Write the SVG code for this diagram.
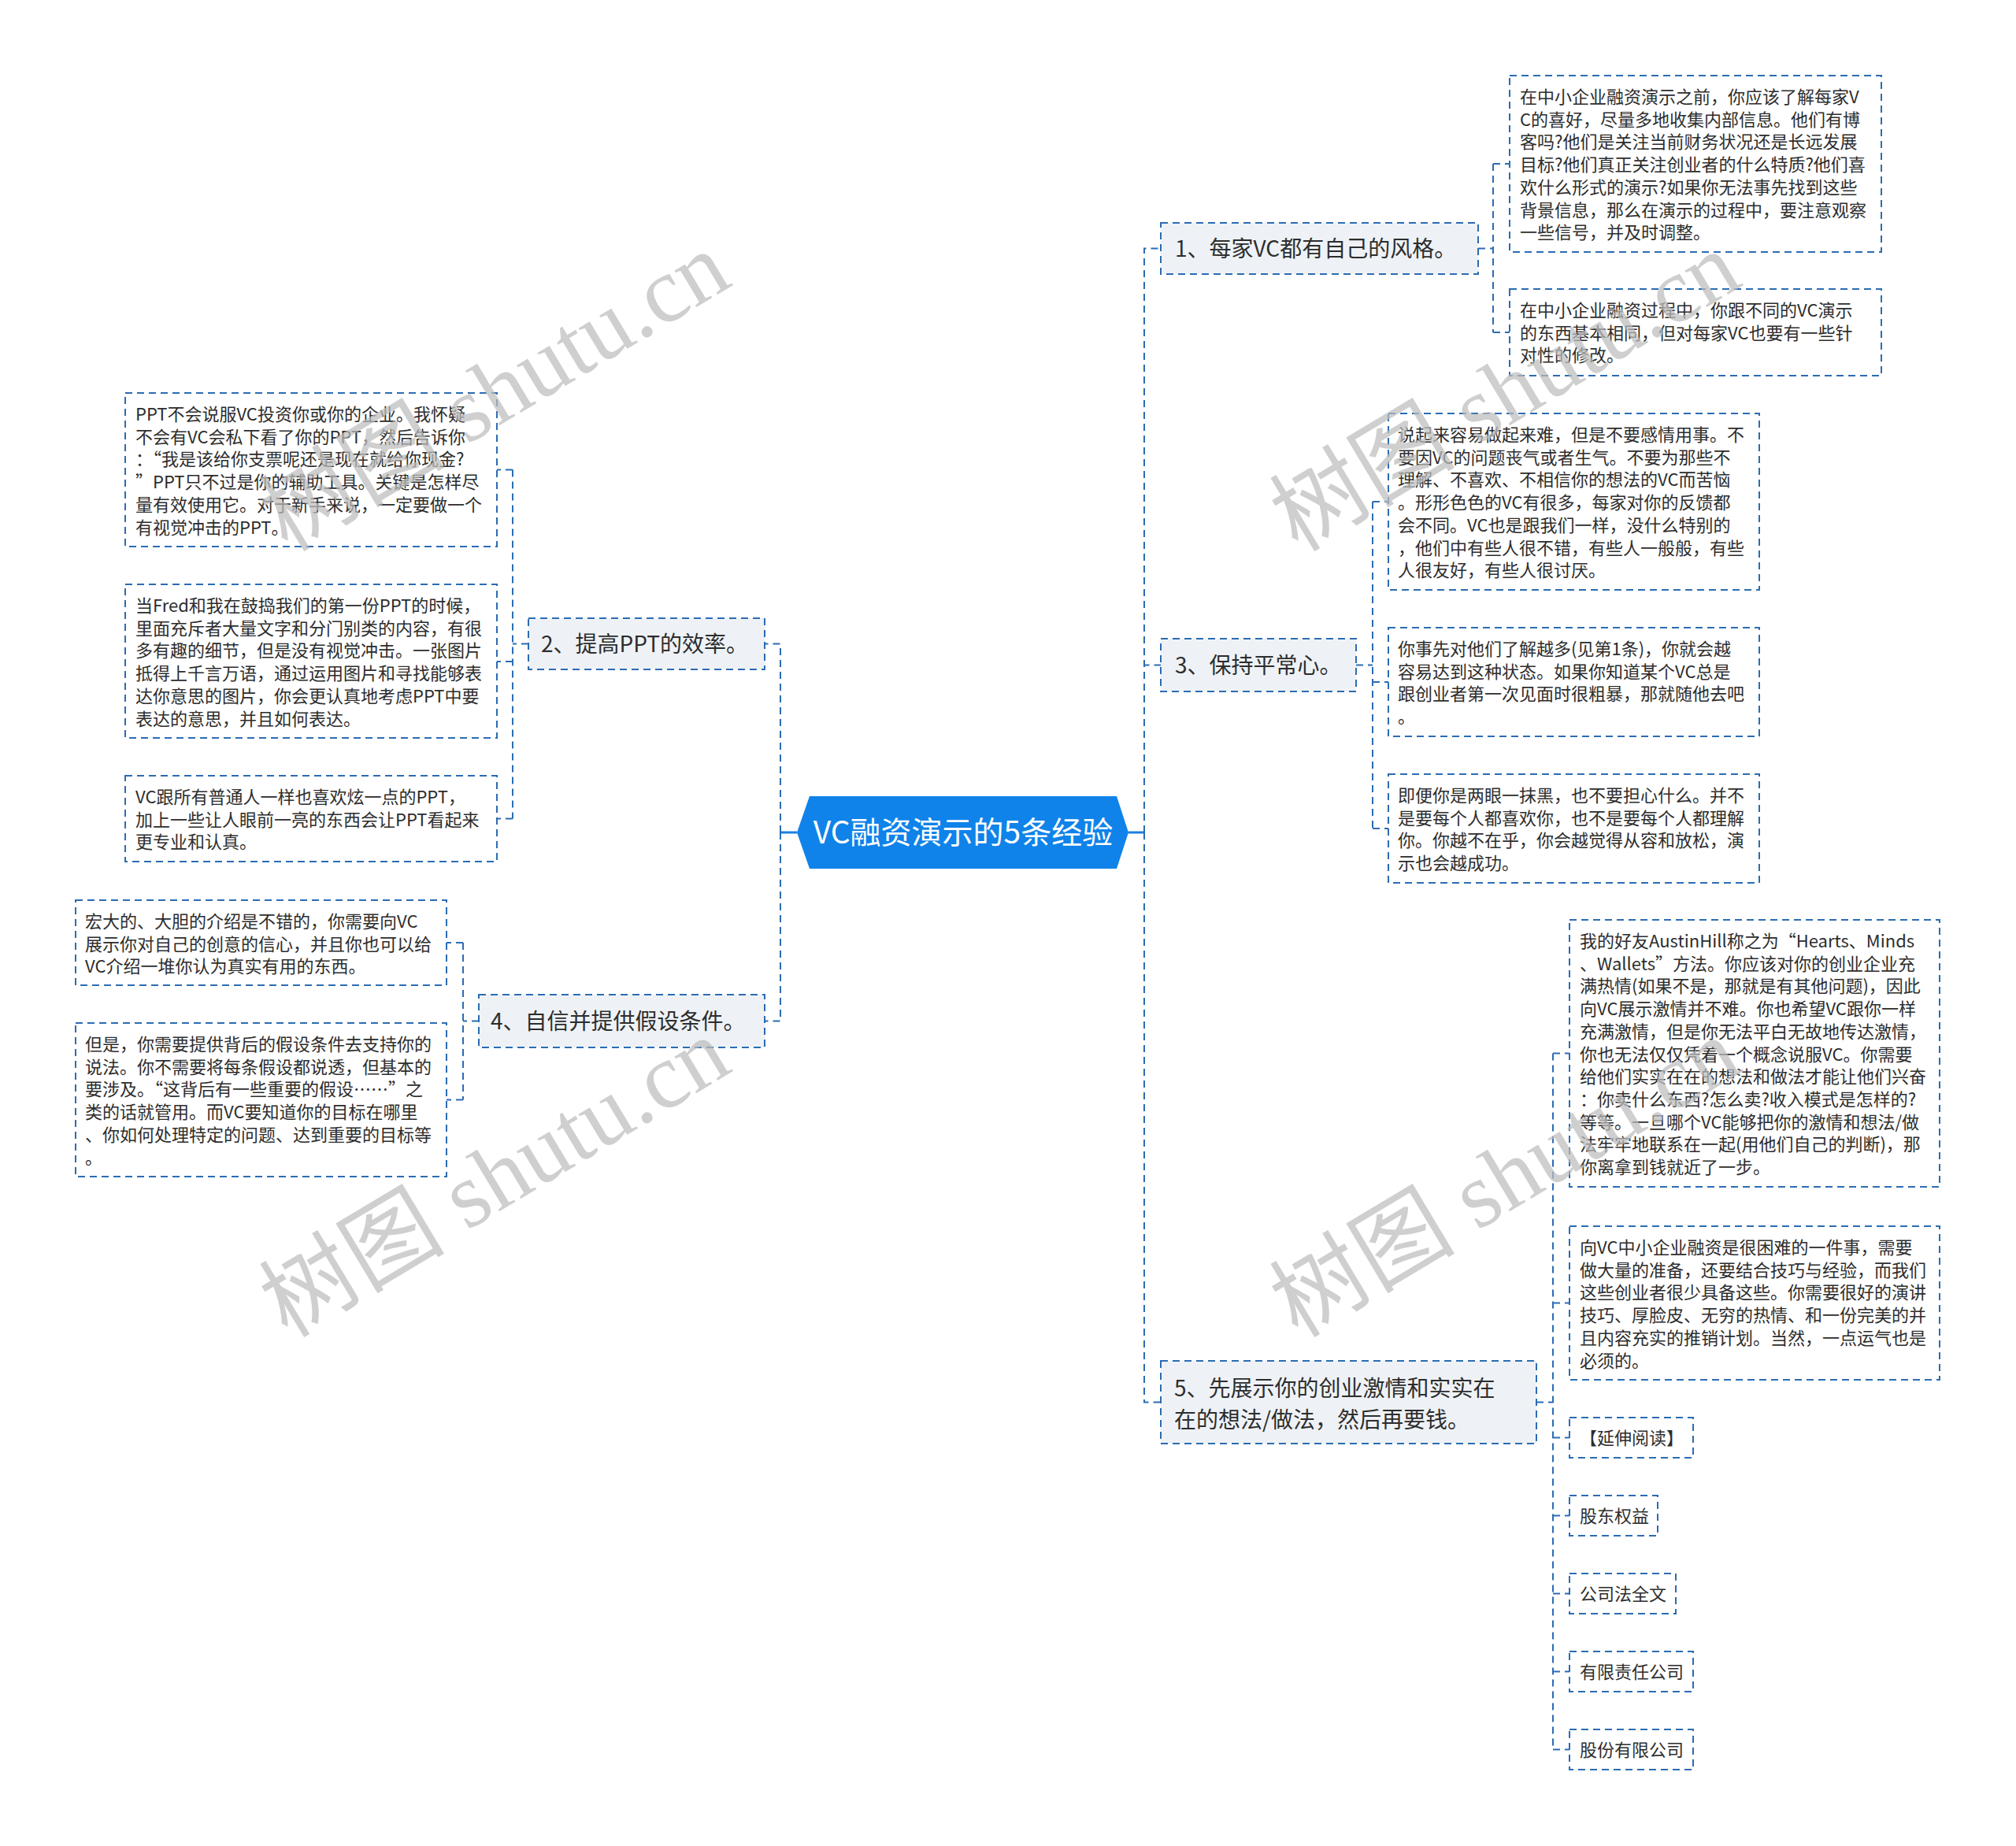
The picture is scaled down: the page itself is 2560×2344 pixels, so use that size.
<svg xmlns="http://www.w3.org/2000/svg" width="2560" height="2344" viewBox="0 0 2560 2344">
<style>
.t{font-family:"Noto Sans CJK SC","Noto Sans",sans-serif;fill:#2d2d2d}
.s{font-size:22px}
.m{font-size:28px}
.box{fill:none;stroke:#2b6cb3;stroke-width:2;stroke-dasharray:9 6}
.main{fill:#eef2f6;stroke:#2b6cb3;stroke-width:2;stroke-dasharray:9 6}
.ln{fill:none;stroke:#2b6cb3;stroke-width:2;stroke-dasharray:9 6}
.solid{fill:none;stroke:#1a7fe0;stroke-width:3}
.wm{font-family:"Liberation Serif","Noto Sans CJK SC",serif;font-size:118px;fill:#bdbdbd;opacity:.72}
</style>
<rect width="2560" height="2344" fill="#ffffff"/>
<g id="connectors">
<path class="solid" d="M1012,1057 H991"/>
<path class="solid" d="M1433,1057 H1453"/>
<path class="ln" d="M991,1057 V817.5 H971 M991,1057 V1296.5 H971"/>
<path class="ln" d="M1453,1057 V315.5 H1474 M1453,1057 V844.5 H1474 M1453,1057 V1780.5 H1474"/>
<path class="ln" d="M1877,315.5 H1896 M1896,208 V422 M1896,208 H1917 M1896,422 H1917"/>
<path class="ln" d="M1722,844.5 H1743 M1743,637 V1052 M1743,637 H1763 M1743,866 H1763 M1743,1052 H1763"/>
<path class="ln" d="M1951,1780.5 H1972 M1972,1337.5 V2221.5 M1972,1337.5 H1993 M1972,1654.5 H1993 M1972,1825.5 H1993 M1972,1924.5 H1993 M1972,2023.5 H1993 M1972,2122.5 H1993 M1972,2221.5 H1993"/>
<path class="ln" d="M671,817.5 H651 M651,596.5 V1039.5 M651,596.5 H631 M651,840 H631 M651,1039.5 H631"/>
<path class="ln" d="M608,1296.5 H588 M588,1197 V1396.5 M588,1197 H567 M588,1396.5 H567"/>
</g>
<g id="root">
<polygon points="1012,1057 1028,1011 1418,1011 1433,1057 1418,1103 1028,1103" fill="#0f83e9"/>
<text x="1223" y="1071" text-anchor="middle" font-family="Noto Sans CJK SC, sans-serif" font-size="39" fill="#ffffff">VC融资演示的5条经验</text>
</g>
<g id="n1">
<rect class="main" x="1474" y="283" width="403" height="65"/>
<text class="t m" x="1492" y="326">1、每家VC都有自己的风格。</text>
</g>
<g id="n1a">
<rect class="box" x="1917" y="96" width="472" height="224"/>
<text class="t s"><tspan x="1930" y="131">在中小企业融资演示之前，你应该了解每家V</tspan><tspan x="1930" y="159.7">C的喜好，尽量多地收集内部信息。他们有博</tspan><tspan x="1930" y="188.4">客吗?他们是关注当前财务状况还是长远发展</tspan><tspan x="1930" y="217.1">目标?他们真正关注创业者的什么特质?他们喜</tspan><tspan x="1930" y="245.8">欢什么形式的演示?如果你无法事先找到这些</tspan><tspan x="1930" y="274.5">背景信息，那么在演示的过程中，要注意观察</tspan><tspan x="1930" y="303.2">一些信号，并及时调整。</tspan></text>
</g>
<g id="n1b">
<rect class="box" x="1917" y="367" width="472" height="110"/>
<text class="t s"><tspan x="1930" y="402">在中小企业融资过程中，你跟不同的VC演示</tspan><tspan x="1930" y="430.7">的东西基本相同，但对每家VC也要有一些针</tspan><tspan x="1930" y="459.4">对性的修改。</tspan></text>
</g>
<g id="n3">
<rect class="main" x="1474" y="811" width="248" height="67"/>
<text class="t m" x="1492" y="855">3、保持平常心。</text>
</g>
<g id="n3a">
<rect class="box" x="1763" y="525" width="471" height="224"/>
<text class="t s"><tspan x="1775" y="560">说起来容易做起来难，但是不要感情用事。不</tspan><tspan x="1775" y="588.7">要因VC的问题丧气或者生气。不要为那些不</tspan><tspan x="1775" y="617.4">理解、不喜欢、不相信你的想法的VC而苦恼</tspan><tspan x="1775" y="646.1">。形形色色的VC有很多，每家对你的反馈都</tspan><tspan x="1775" y="674.8">会不同。VC也是跟我们一样，没什么特别的</tspan><tspan x="1775" y="703.5">，他们中有些人很不错，有些人一般般，有些</tspan><tspan x="1775" y="732.2">人很友好，有些人很讨厌。</tspan></text>
</g>
<g id="n3b">
<rect class="box" x="1763" y="797" width="471" height="138"/>
<text class="t s"><tspan x="1775" y="832">你事先对他们了解越多(见第1条)，你就会越</tspan><tspan x="1775" y="860.7">容易达到这种状态。如果你知道某个VC总是</tspan><tspan x="1775" y="889.4">跟创业者第一次见面时很粗暴，那就随他去吧</tspan><tspan x="1775" y="918.1">。</tspan></text>
</g>
<g id="n3c">
<rect class="box" x="1763" y="983" width="471" height="138"/>
<text class="t s"><tspan x="1775" y="1018">即便你是两眼一抹黑，也不要担心什么。并不</tspan><tspan x="1775" y="1046.7">是要每个人都喜欢你，也不是要每个人都理解</tspan><tspan x="1775" y="1075.4">你。你越不在乎，你会越觉得从容和放松，演</tspan><tspan x="1775" y="1104.1">示也会越成功。</tspan></text>
</g>
<g id="n5">
<rect class="main" x="1474" y="1728" width="477" height="105"/>
<text class="t m"><tspan x="1491" y="1773">5、先展示你的创业激情和实实在</tspan><tspan x="1491" y="1812.5">在的想法/做法，然后再要钱。</tspan></text>
</g>
<g id="n5a">
<rect class="box" x="1993" y="1168" width="470" height="339"/>
<text class="t s"><tspan x="2006" y="1203">我的好友AustinHill称之为“Hearts、Minds</tspan><tspan x="2006" y="1231.7">、Wallets”方法。你应该对你的创业企业充</tspan><tspan x="2006" y="1260.4">满热情(如果不是，那就是有其他问题)，因此</tspan><tspan x="2006" y="1289.1">向VC展示激情并不难。你也希望VC跟你一样</tspan><tspan x="2006" y="1317.8">充满激情，但是你无法平白无故地传达激情，</tspan><tspan x="2006" y="1346.5">你也无法仅仅凭着一个概念说服VC。你需要</tspan><tspan x="2006" y="1375.2">给他们实实在在的想法和做法才能让他们兴奋</tspan><tspan x="2006" y="1403.9">：你卖什么东西?怎么卖?收入模式是怎样的?</tspan><tspan x="2006" y="1432.6">等等。一旦哪个VC能够把你的激情和想法/做</tspan><tspan x="2006" y="1461.3">法牢牢地联系在一起(用他们自己的判断)，那</tspan><tspan x="2006" y="1490">你离拿到钱就近了一步。</tspan></text>
</g>
<g id="n5b">
<rect class="box" x="1993" y="1557" width="470" height="195"/>
<text class="t s"><tspan x="2006" y="1592">向VC中小企业融资是很困难的一件事，需要</tspan><tspan x="2006" y="1620.7">做大量的准备，还要结合技巧与经验，而我们</tspan><tspan x="2006" y="1649.4">这些创业者很少具备这些。你需要很好的演讲</tspan><tspan x="2006" y="1678.1">技巧、厚脸皮、无穷的热情、和一份完美的并</tspan><tspan x="2006" y="1706.8">且内容充实的推销计划。当然，一点运气也是</tspan><tspan x="2006" y="1735.5">必须的。</tspan></text>
</g>
<g id="n5c">
<rect class="box" x="1993" y="1800" width="157" height="51"/>
<text class="t s" x="2006" y="1834">【延伸阅读】</text>
</g>
<g id="n5d">
<rect class="box" x="1993" y="1899" width="112" height="51"/>
<text class="t s" x="2006" y="1933">股东权益</text>
</g>
<g id="n5e">
<rect class="box" x="1993" y="1998" width="135" height="51"/>
<text class="t s" x="2006" y="2032">公司法全文</text>
</g>
<g id="n5f">
<rect class="box" x="1993" y="2097" width="157" height="51"/>
<text class="t s" x="2006" y="2131">有限责任公司</text>
</g>
<g id="n5g">
<rect class="box" x="1993" y="2196" width="157" height="51"/>
<text class="t s" x="2006" y="2230">股份有限公司</text>
</g>
<g id="n2">
<rect class="main" x="671" y="785" width="300" height="65"/>
<text class="t m" x="687" y="828">2、提高PPT的效率。</text>
</g>
<g id="n2a">
<rect class="box" x="159" y="499" width="472" height="195"/>
<text class="t s"><tspan x="172" y="534">PPT不会说服VC投资你或你的企业。我怀疑</tspan><tspan x="172" y="562.7">不会有VC会私下看了你的PPT，然后告诉你</tspan><tspan x="172" y="591.4">：“我是该给你支票呢还是现在就给你现金?</tspan><tspan x="172" y="620.1">”PPT只不过是你的辅助工具。关键是怎样尽</tspan><tspan x="172" y="648.8">量有效使用它。对于新手来说，一定要做一个</tspan><tspan x="172" y="677.5">有视觉冲击的PPT。</tspan></text>
</g>
<g id="n2b">
<rect class="box" x="159" y="742" width="472" height="195"/>
<text class="t s"><tspan x="172" y="777">当Fred和我在鼓捣我们的第一份PPT的时候，</tspan><tspan x="172" y="805.7">里面充斥者大量文字和分门别类的内容，有很</tspan><tspan x="172" y="834.4">多有趣的细节，但是没有视觉冲击。一张图片</tspan><tspan x="172" y="863.1">抵得上千言万语，通过运用图片和寻找能够表</tspan><tspan x="172" y="891.8">达你意思的图片，你会更认真地考虑PPT中要</tspan><tspan x="172" y="920.5">表达的意思，并且如何表达。</tspan></text>
</g>
<g id="n2c">
<rect class="box" x="159" y="985" width="472" height="109"/>
<text class="t s"><tspan x="172" y="1020">VC跟所有普通人一样也喜欢炫一点的PPT，</tspan><tspan x="172" y="1048.7">加上一些让人眼前一亮的东西会让PPT看起来</tspan><tspan x="172" y="1077.4">更专业和认真。</tspan></text>
</g>
<g id="n4">
<rect class="main" x="608" y="1263" width="363" height="67"/>
<text class="t m" x="623" y="1307">4、自信并提供假设条件。</text>
</g>
<g id="n4a">
<rect class="box" x="96" y="1143" width="471" height="108"/>
<text class="t s"><tspan x="108" y="1178">宏大的、大胆的介绍是不错的，你需要向VC</tspan><tspan x="108" y="1206.7">展示你对自己的创意的信心，并且你也可以给</tspan><tspan x="108" y="1235.4">VC介绍一堆你认为真实有用的东西。</tspan></text>
</g>
<g id="n4b">
<rect class="box" x="96" y="1299" width="471" height="195"/>
<text class="t s"><tspan x="108" y="1334">但是，你需要提供背后的假设条件去支持你的</tspan><tspan x="108" y="1362.7">说法。你不需要将每条假设都说透，但基本的</tspan><tspan x="108" y="1391.4">要涉及。“这背后有一些重要的假设……”之</tspan><tspan x="108" y="1420.1">类的话就管用。而VC要知道你的目标在哪里</tspan><tspan x="108" y="1448.8">、你如何处理特定的问题、达到重要的目标等</tspan><tspan x="108" y="1477.5">。</tspan></text>
</g>
<g id="watermarks">
<text class="wm" x="365" y="702" transform="rotate(-31 365 702)">树图 shutu.cn</text>
<text class="wm" x="1648" y="702" transform="rotate(-31 1648 702)">树图 shutu.cn</text>
<text class="wm" x="365" y="1700" transform="rotate(-31 365 1700)">树图 shutu.cn</text>
<text class="wm" x="1648" y="1700" transform="rotate(-31 1648 1700)">树图 shutu.cn</text>
</g>
</svg>
